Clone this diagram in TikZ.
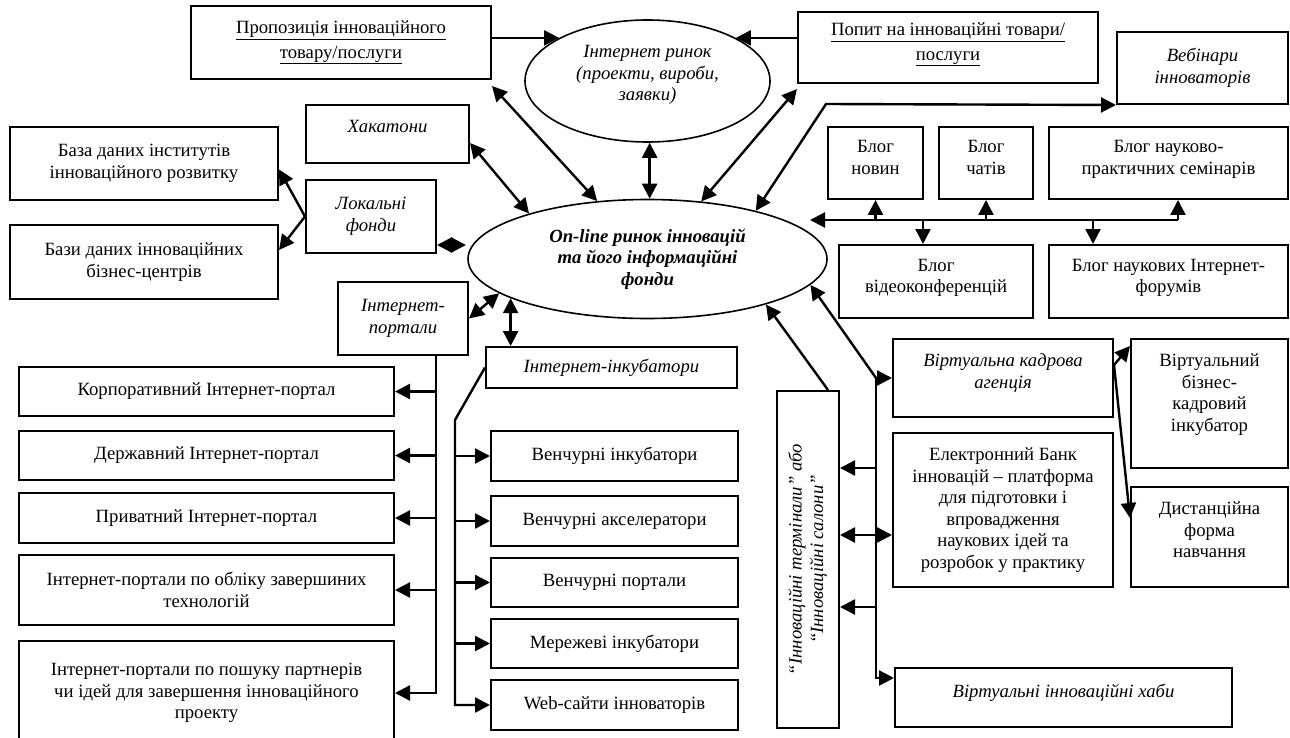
\documentclass[tikz,border=0pt]{standalone}
\usepackage{fontspec}
\setmainfont{Liberation Serif}
\usetikzlibrary{arrows.meta,shapes.geometric}

% text block lifted inside its box, keeping the box's nominal size
\newcommand\lift[2]{\raisebox{#1pt}[\height][\depth]{\begin{tabular}{@{}c@{}}#2\end{tabular}}}

\tikzset{
  wh/.style 2 args={minimum width=#1pt, minimum height=#2pt},
  box/.style={draw, line width=2pt, rectangle, inner sep=2pt, align=center},
  oval/.style={draw, line width=1.6pt, ellipse, inner sep=0pt, align=center},
  conn/.style={line width=2.4pt},
  >={Triangle[length=15pt,width=15pt]}
}

\begin{document}
\begin{tikzpicture}[x=1pt, y=-1pt, font=\fontsize{18.7}{21.5}\selectfont]
\fill[white] (0,0) rectangle (1290,738);
\useasboundingbox (0,0) rectangle (1290,738);

% ---- upper part ----
\node[box, wh={300}{73}] (prop) at (341,42.5)
  {\underline{Пропозиція інноваційного}\\[3pt]\underline{товару/послуги}};
\node[oval, wh={245}{122}] (inet) at (647.5,81)
  {\lift{6}{\itshape Інтернет ринок\\\itshape (проекти, вироби,\\\itshape заявки)}};
\node[box, wh={300}{71}] (popyt) at (948,47.5)
  {\lift{4}{\underline{Попит на інноваційні товари/}\\[3pt]\underline{послуги}}};
\node[box, wh={171}{72}] (web) at (1202.5,68) {\itshape Вебінари\\\itshape інноваторів};
\node[box, wh={163}{58}] (hak) at (387.5,134) {\lift{6}{\itshape Хакатони}};

% ---- databases and local funds ----
\node[box, wh={268}{73}] (baza1) at (144,163.5) {База даних інститутів\\інноваційного розвитку};
\node[box, wh={268}{74}] (baza2) at (144,262) {Бази даних інноваційних\\бізнес-центрів};
\node[box, wh={130}{73}] (lok) at (371,216.5) {\itshape Локальні\\\itshape фонди};

% ---- central ellipse ----
\node[oval, wh={359}{119}] (main) at (647.5,259)
  {\bfseries\itshape On-line ринок інновацій\\\bfseries\itshape та його інформаційні\\\bfseries\itshape фонди};

% ---- blogs ----
\node[box, wh={95}{72}] (novyn) at (875.5,163) {\lift{4}{Блог\\новин}};
\node[box, wh={94}{72}] (chat) at (986,163) {\lift{4}{Блог\\чатів}};
\node[box, wh={239}{72}] (sem) at (1168.5,163) {\lift{4}{Блог науково-\\практичних семінарів}};
\node[box, wh={194}{73}] (video) at (936,281.5) {\lift{4}{Блог\\відеоконференцій}};
\node[box, wh={239}{73}] (forum) at (1168.5,281.5) {\lift{4}{Блог наукових Інтернет-\\форумів}};

% ---- portals ----
\node[box, wh={130}{73}] (portals) at (403,318.5) {\itshape Інтернет-\\\itshape портали};
\node[box, wh={375}{49}] (korp) at (206.5,391.5) {Корпоративний Інтернет-портал};
\node[box, wh={375}{49}] (derzh) at (206.5,455.5) {Державний Інтернет-портал};
\node[box, wh={375}{50}] (pryv) at (206.5,518) {Приватний Інтернет-портал};
\node[box, wh={375}{70}] (oblik) at (206.5,590) {Інтернет-портали по обліку завершиних\\технологій};
\node[box, wh={375}{104}] (poshuk) at (206.5,693)
  {Інтернет-портали по пошуку партнерів\\чи ідей для завершення інноваційного\\проекту};

% ---- incubators ----
\node[box, wh={251}{41}] (incub) at (611.5,367.5) {\itshape Інтернет-інкубатори};
\node[box, wh={247}{50}] (vinc) at (614.5,456) {Венчурні інкубатори};
\node[box, wh={247}{50}] (vacc) at (614.5,521) {Венчурні акселератори};
\node[box, wh={247}{49}] (vport) at (614.5,582.5) {Венчурні портали};
\node[box, wh={247}{49}] (merezh) at (614.5,643.5) {Мережеві інкубатори};
\node[box, wh={247}{50}] (websites) at (614.5,705) {Web-сайти інноваторів};

% ---- right-hand group ----
\node[box, wh={62}{337}] (term) at (808,559.5)
  {\rotatebox{90}{\begin{tabular}{@{}c@{}}\itshape “Інноваційні термінали” або\\\itshape “Інноваційні салони”\end{tabular}}};
\node[box, wh={220}{78}] (virt) at (1003,378) {\lift{5}{\itshape Віртуальна кадрова\\\itshape агенція}};
\node[box, wh={220}{154}] (bank) at (1003,510)
  {Електронний Банк\\інновацій – платформа\\для підготовки і\\впровадження\\наукових ідей та\\розробок у практику};
\node[box, wh={157}{129}] (vbiz) at (1209.5,403.5) {\lift{9}{Віртуальний\\бізнес-\\кадровий\\інкубатор}};
\node[box, wh={157}{100}] (dist) at (1209.5,537) {\lift{5}{Дистанційна\\форма\\навчання}};
\node[box, wh={337}{59}] (habs) at (1063.5,697.5) {\lift{4}{\itshape Віртуальні інноваційні хаби}};

% ---- bends and bus points ----
\coordinate (webbend) at (826,104);
\coordinate (busR) at (1178,220);
\coordinate (busL) at (810,220);
\coordinate (lokM) at (466,245);
\coordinate (rbT) at (876,378);
\coordinate (rbB) at (876,678);
\coordinate (tA) at (876,468);
\coordinate (tC) at (876,535);
\coordinate (tB) at (876,607);
\coordinate (ibK) at (455,420);

% ---- connectors: upper part ----
\draw[conn,->] (prop.east |- inet.154) -- (inet.154);
\draw[conn,->] (popyt.west |- inet.26) -- (inet.26);
\draw[conn,<->] ([yshift=-6pt]prop.south east) -- (main.131);
\draw[conn,<->] ([yshift=-9pt]hak.east) -- (main.159);
\draw[conn,<->] (inet.272) -- (inet.272 |- main.north);
\draw[conn,<->] ([yshift=-5pt]popyt.south west) -- (main.47);
\draw[conn,<->] (main.24) -- (webbend) -- (web.south west);

% ---- blog bus ----
\draw[conn,->] (busR) -- (busL);
\draw[conn,->] (novyn.south |- busL) -- (novyn.south);
\draw[conn,->] (chat.south |- busL) -- (chat.south);
\draw[conn,->] (busR) -- (busR |- sem.south);
\draw[conn,->] ([xshift=-13pt]video.north |- busL) -- ([xshift=-13pt]video.north);
\draw[conn,->] ([xshift=-75.5pt]forum.north |- busL) -- ([xshift=-75.5pt]forum.north);

% ---- local funds ----
\draw[conn,->] (lok.west) -- ([yshift=-6pt]baza1.east);
\draw[conn,->] (lok.west) -- ([yshift=12pt]baza2.east);
\draw[conn,<->] (lok.east |- lokM) -- (lokM);

% ---- portals bus ----
\draw[conn,<->] (portals.east) -- (main.193);
\draw[conn,->] ([xshift=33pt]portals.south) |- (poshuk.east);
\draw[conn,->] ([xshift=33pt]portals.south |- korp.east) -- (korp.east);
\draw[conn,->] ([xshift=33pt]portals.south |- derzh.east) -- (derzh.east);
\draw[conn,->] ([xshift=33pt]portals.south |- pryv.east) -- (pryv.east);
\draw[conn,->] ([xshift=33pt]portals.south |- oblik.east) -- (oblik.east);

% ---- incubators bus ----
\draw[conn,<->] (main.196) -- (main.196 |- incub.north);
\draw[conn,->] (incub.west) -- (ibK) |- (websites.west);
\draw[conn,->] (ibK |- vinc.west) -- (vinc.west);
\draw[conn,->] (ibK |- vacc.west) -- (vacc.west);
\draw[conn,->] (ibK |- vport.west) -- (vport.west);
\draw[conn,->] (ibK |- merezh.west) -- (merezh.west);

% ---- right bus ----
\draw[conn,->] ([xshift=-12pt]term.north east) -- (main.339);
\draw[conn,<->] (main.351.5) -- (rbT) -- (virt.west);
\draw[conn,->] (rbT) -- (rbB) -- (habs.west |- rbB);
\draw[conn,->] (tA) -- (tA -| term.east);
\draw[conn,->] (tB) -- (tB -| term.east);
\draw[conn,<->] (tC -| term.east) -- (tC -| bank.west);
\draw[conn,->] ([yshift=13pt]virt.east) -- ([yshift=-8pt]vbiz.north west);
\draw[conn,->] ([yshift=13pt]virt.east) -- ([yshift=19pt]dist.west);
\end{tikzpicture}
\end{document}
